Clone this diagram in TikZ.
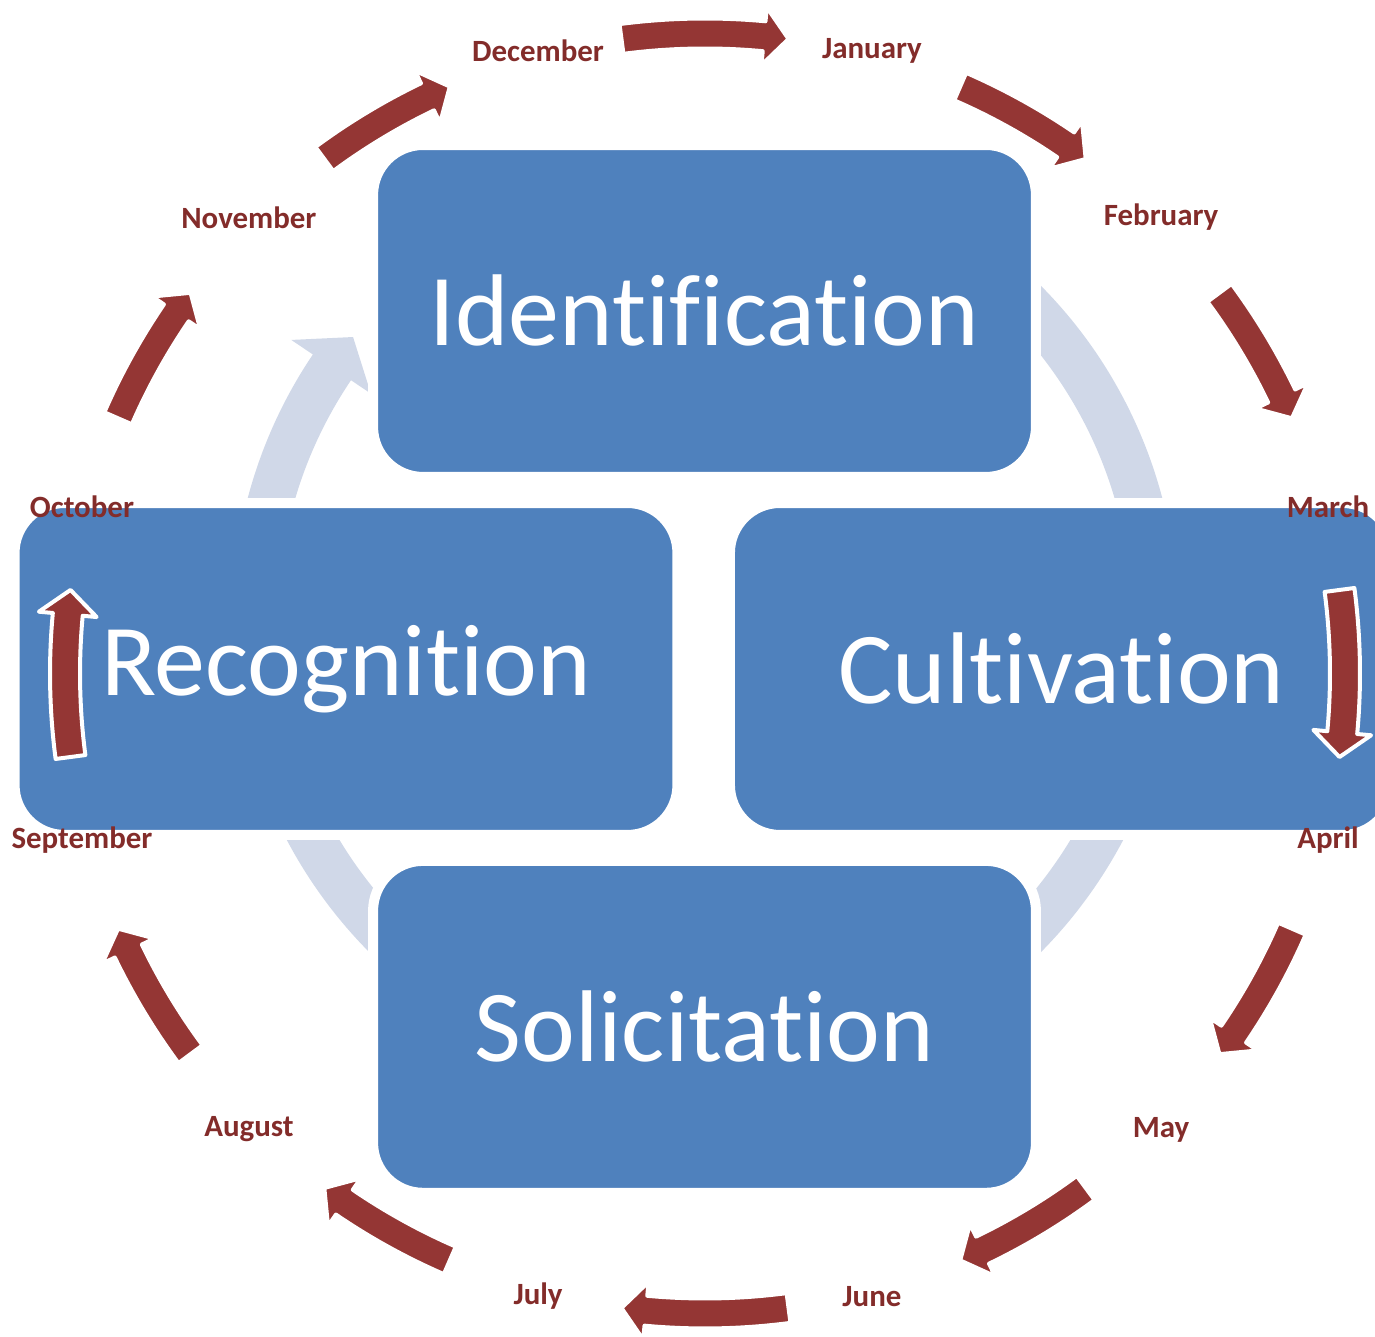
\documentclass[tikz,border=0pt]{standalone}
\usepackage{fontspec}
\setmainfont[Ligatures=NoCommon]{Carlito}
\usetikzlibrary{positioning}
\definecolor{cycleblue}{HTML}{4F81BD}
\definecolor{ringgrey}{HTML}{D0D8E8}
\definecolor{monthred}{HTML}{943634}
\definecolor{monthink}{HTML}{832C2A}

\begin{document}
\begin{tikzpicture}[
		x=0.02cm, y=0.02cm,
		phase/.style={ % 四个阶段的圆角方框
			rectangle, rounded corners=1cm, fill=cycleblue,
			draw=white, line width=0.2cm, outer sep=0pt, text=white,
			minimum width=13.26cm, minimum height=6.64cm,
			font=\fontsize{58}{60}\selectfont
		},
		month/.style={text=monthink, inner sep=0pt,
			font=\bfseries\fontsize{17.6}{20}\selectfont},
		monthflow/.style={fill=monthred, draw=white, line width=0.08cm, line join=round},
		ringflow/.style={fill=ringgrey}
		]
		\useasboundingbox (0,0) rectangle (1375,1337);
		\clip (0,0) rectangle (1375,1337);
		\coordinate (ringhub) at (705,718);
		\coordinate (monthhub) at (705,663.5);

		%% 背景灰色环形箭头
		\fill[ringflow, shift={(ringhub)}]
			(420:473) arc[start angle=420, end angle=146, radius=473]
			-- (146:499) -- (141.3:451) -- (146:403) -- (146:427)
			arc[start angle=146, end angle=420, radius=427] -- cycle;

		%% 四个阶段
		\node[phase] (ident) at (704.5,1026) {Identification};
		\node[phase, below=7.68cm of ident] (solic) {Solicitation};
		\node[phase] (recog) at (346,668) {Recognition};
		\node[phase, right=1.05cm of recog] (cultiv) {Cultivation};

		%% 月份和红色箭头
		\begin{scope}[shift={(monthhub)}]
			\foreach \c in {90,60,...,-240}{
				\pgfmathsetmacro\hs{mod(\c,90)==0 ? 7.5 : 6.5}
				\filldraw[monthflow]
					({\c+\hs}:655) arc[start angle={\c+\hs}, end angle={\c-\hs+2.2}, radius=655]
					-- ({\c-\hs+2.2}:669) -- ({\c-\hs}:640) -- ({\c-\hs+2.2}:611) -- ({\c-\hs+2.2}:625)
					arc[start angle={\c-\hs+2.2}, end angle={\c+\hs}, radius=625] -- cycle;
			}
			\foreach \mon [count=\i from 0] in {January,February,March,April,May,June,
				July,August,September,October,November,December}
				\node[month] (\mon) at ({75-30*\i}:645) {\mon};
		\end{scope}
	\end{tikzpicture}
\end{document}
